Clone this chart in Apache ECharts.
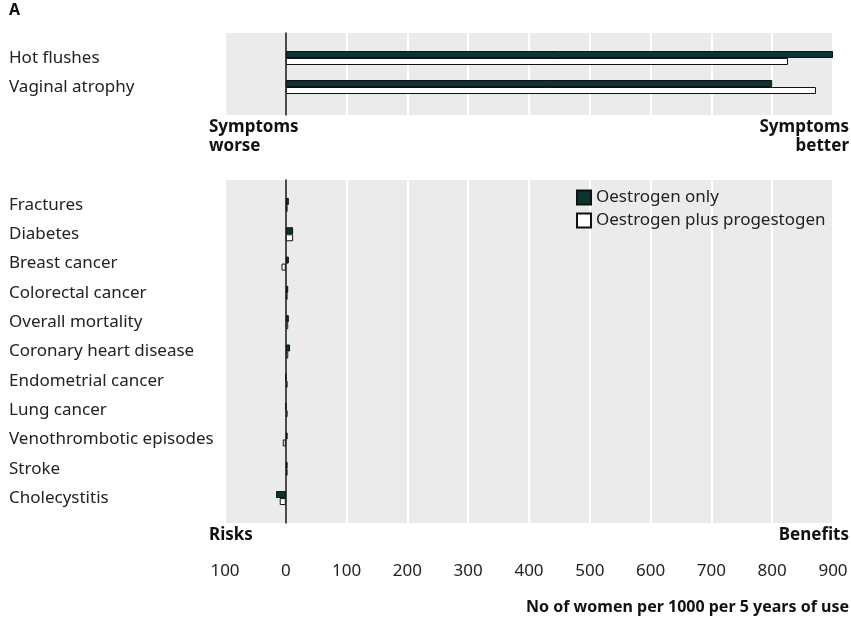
<!DOCTYPE html>
<html>
<head>
<meta charset="utf-8">
<script src="https://cdn.jsdelivr.net/npm/echarts@6/dist/echarts.min.js"></script>
<style>
html, body { margin: 0; background: #fff; }
#chart { width: 851px; height: 617px; }
</style>
</head>
<body>
<div id="chart"></div>
<script>
// panel A: symptoms
var symptoms = ['Hot flushes', 'Vaginal atrophy'];
var symptomsOestrogen = [900, 800];
var symptomsCombined = [826, 872];

// risks and benefits
var outcomes = ['Fractures', 'Diabetes', 'Breast cancer', 'Colorectal cancer', 'Overall mortality',
	'Coronary heart disease', 'Endometrial cancer', 'Lung cancer', 'Venothrombotic episodes',
	'Stroke', 'Cholecystitis'];
var outcomesOestrogen = [5, 12, 5, 4, 5, 7, 0, 0, 3, 3, -16];
var outcomesCombined = [3, 12, -7, 3, 4, 4, 3, 3, -5, 3, -10];

var xMin = -100, xMax = 900, xStep = 100;

var font = 'Noto Sans';
var dark = '#0c3431';

var chart = echarts.init(document.getElementById('chart'));

function panelX(gridIndex, showLabels) {
	return {
		type: 'value', gridIndex: gridIndex, min: xMin, max: xMax, interval: xStep,
		axisLine: { show: false }, axisTick: { show: false },
		splitLine: { show: true, lineStyle: { color: '#fff', width: 2 } },
		axisLabel: {
			show: showLabels, margin: 40, fontFamily: font, fontSize: 17, color: '#222',
			formatter: function (v) { return Math.abs(v); }
		}
	};
}
function barX(gridIndex) {
	return {
		type: 'value', gridIndex: gridIndex, min: xMin, max: xMax, interval: xStep,
		axisLine: { show: false }, axisTick: { show: false }, axisLabel: { show: false },
		splitLine: { show: false }
	};
}
function panelY(gridIndex) {
	return {
		type: 'value', gridIndex: gridIndex, min: 0, max: 1,
		axisLine: { show: true, onZero: true, lineStyle: { color: '#111', width: 1.5 } },
		axisTick: { show: false }, axisLabel: { show: false }, splitLine: { show: false }
	};
}
function barY(gridIndex, names) {
	return {
		type: 'category', gridIndex: gridIndex, data: names, inverse: true,
		axisLine: { show: false }, axisTick: { show: false },
		axisLabel: { align: 'left', margin: 216, fontFamily: font, fontSize: 17, color: '#222' }
	};
}
function bars(name, gridIndex, values, fill) {
	return {
		name: name, type: 'bar', xAxisIndex: gridIndex, yAxisIndex: gridIndex,
		data: values, barWidth: 7, barGap: '0%',
		itemStyle: { color: fill, borderColor: '#111', borderWidth: 1 }
	};
}

var option = {
	animation: false,
	textStyle: { fontFamily: font },
	grid: [
		{ left: 225, right: 18, top: 33, height: 82, show: true, backgroundColor: '#ebebeb', borderWidth: 0 },
		{ left: 225, right: 18, top: 43.5, height: 58 },
		{ left: 225, right: 18, top: 180, height: 343, show: true, backgroundColor: '#ebebeb', borderWidth: 0 },
		{ left: 225, right: 18, top: 190.3, height: 322.4 }
	],
	xAxis: [panelX(0, false), barX(1), panelX(2, true), barX(3)],
	yAxis: [panelY(0), barY(1, symptoms), panelY(2), barY(3, outcomes)],
	legend: {
		data: ['Oestrogen only', 'Oestrogen plus progestogen'],
		orient: 'vertical', left: 571, top: 184,
		itemWidth: 14, itemHeight: 14, itemGap: 6, icon: 'rect',
		textStyle: { fontFamily: font, fontSize: 17, color: '#222' }
	},
	series: [
		bars('Oestrogen only', 1, symptomsOestrogen, dark),
		bars('Oestrogen plus progestogen', 1, symptomsCombined, '#fff'),
		bars('Oestrogen only', 3, outcomesOestrogen, dark),
		bars('Oestrogen plus progestogen', 3, outcomesCombined, '#fff')
	],
	graphic: [
		{ type: 'text', x: 9, y: 2, style: { text: 'A', font: 'bold 16px "Noto Sans"', fill: '#111' } },
		{ type: 'text', x: 209, y: 118, style: { text: 'Symptoms\nworse', font: 'bold 17px "Noto Sans"', lineHeight: 19, fill: '#111' } },
		{ type: 'text', x: 849, y: 118, style: { text: 'Symptoms\nbetter', font: 'bold 17px "Noto Sans"', lineHeight: 19, fill: '#111', align: 'right' } },
		{ type: 'text', x: 209, y: 527, style: { text: 'Risks', font: 'bold 17px "Noto Sans"', fill: '#111' } },
		{ type: 'text', x: 849, y: 527, style: { text: 'Benefits', font: 'bold 17px "Noto Sans"', fill: '#111', align: 'right' } },
		{ type: 'text', x: 849, y: 599, style: { text: 'No of women per 1000 per 5 years of use', font: 'bold 16px "Noto Sans"', fill: '#111', align: 'right' } }
	]
};

chart.setOption(option);
</script>
</body>
</html>
